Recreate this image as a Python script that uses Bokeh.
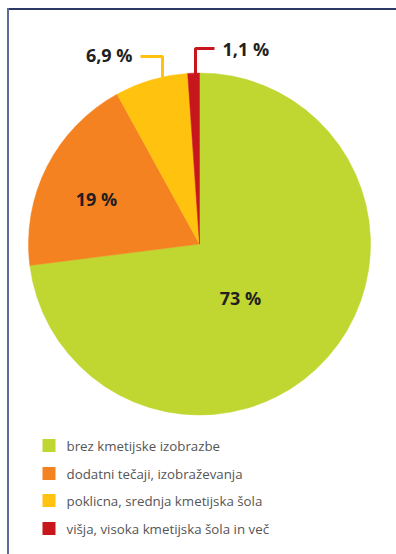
import math
from bokeh.plotting import figure
from bokeh.models import Range1d, ColumnDataSource
from bokeh.core.properties import value
from bokeh.embed import file_html
from bokeh.resources import INLINE

categories = ["brez kmetijske izobrazbe", "dodatni tečaji, izobraževanja",
              "poklicna, srednja kmetijska šola", "višja, visoka kmetijska šola in več"]
shares = [73, 19, 6.9, 1.1]
labels = ["73 %", "19 %", "6,9 %", "1,1 %"]
colors = ["#bfd730", "#f58220", "#ffc20e", "#c8161d"]

W, H = 396, 554
p = figure(width=W, height=H, output_backend="svg", toolbar_location=None,
           x_range=Range1d(0, W), y_range=Range1d(0, H), min_border=0)
p.axis.visible = False
p.grid.visible = False
p.outline_line_color = None
p.background_fill_color = "white"
p.border_fill_color = "white"

# frame
p.segment(x0=[7], y0=[545.5], x1=[W], y1=[545.5], line_color="#2b3964", line_width=2)
p.segment(x0=[7.5], y0=[0], x1=[7.5], y1=[546.5], line_color="#5b6b91", line_width=2)

cx, cy, r = 199, 310.5, 171
total = sum(shares)
starts, ends = [], []
a = math.pi / 2
for s in shares:
    starts.append(a)
    a -= 2 * math.pi * s / total
    ends.append(a)
src = ColumnDataSource(dict(start=starts, end=ends, color=colors))
p.wedge(x=cx, y=cy, radius=r, start_angle="start", end_angle="end",
        direction="clock", fill_color="color", line_color="color", line_width=0.5, source=src)

font = value("Open Sans")
lbl_color = "#231f20"
# inner labels
p.text(x=[240, 96], y=[257, 356], text=labels[:2], text_font=font, text_font_size="18px",
       text_font_style="bold", text_color=lbl_color, text_align="center", text_baseline="middle")
# outer labels
p.text(x=[132], y=[500], text=[labels[2]], text_font=font, text_font_size="18px",
       text_font_style="bold", text_color=lbl_color, text_align="right", text_baseline="middle")
p.text(x=[222], y=[506], text=[labels[3]], text_font=font, text_font_size="18px",
       text_font_style="bold", text_color=lbl_color, text_align="left", text_baseline="middle")
# leader lines
p.line(x=[140, 162, 162], y=[498, 498, 477], line_color=colors[2], line_width=3)
p.line(x=[214, 195, 195], y=[506, 506, 479], line_color=colors[3], line_width=3)

# legend
ly = [109, 81, 54, 26]
p.rect(x=[48.5] * 4, y=ly, width=13, height=13, width_units="screen", height_units="screen",
       fill_color=colors, line_color=None)
p.text(x=[66] * 4, y=ly, text=categories, text_font=font, text_font_size="13.3px",
       text_color="#555555", text_align="left", text_baseline="middle")

open("out.html", "w").write(file_html(p, INLINE))
